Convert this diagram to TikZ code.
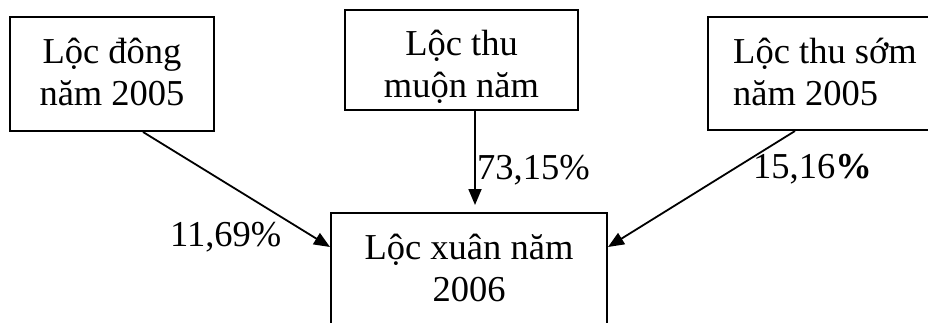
\documentclass[tikz,border=0pt]{standalone}
\usepackage{fontspec}
\setmainfont{Liberation Serif}
\usetikzlibrary{arrows.meta,calc}
\begin{document}
\begin{tikzpicture}[x=1pt,y=1pt,
  boxnode/.style={draw,line width=2pt,align=center,inner sep=0pt,
    font=\fontsize{36.5}{42}\selectfont},
  pct/.style={anchor=base west,inner sep=0pt,font=\fontsize{36.5}{42}\selectfont},
  conn/.style={line width=1.8pt,-{Triangle[length=16pt,width=13pt]}}]
\clip (0,0) rectangle (928,322);
\fill[white] (0,0) rectangle (928,322);
\node[boxnode,minimum width=204,minimum height=114,text height=64pt,text depth=2pt]
  (dong) at (112,248) {Lộc đông\\năm 2005};
\node[boxnode,minimum width=233,minimum height=100,text height=76pt,text depth=2pt]
  (muon) at (461.5,262) {Lộc thu\\muộn năm};
\node[boxnode,align=left,minimum width=234,minimum height=113,text height=65pt,text depth=2pt]
  (som) at (825,248.5) {Lộc thu sớm\\năm 2005};
\node[boxnode,minimum width=276,minimum height=130,text height=48pt,text depth=2pt]
  (xuan) at (469,44) {Lộc xuân năm\\2006};
\coordinate (a1) at ($(dong.south)+(31,0)$);
\coordinate (b1) at ($(xuan.north west)+(0,-35)$);
\coordinate (a2) at ($(muon.south)+(13.5,0)$);
\coordinate (a3) at (795,192);
\coordinate (b3) at ($(xuan.north east)+(0,-35)$);
\draw[conn] (a1) -- (b1);
\draw[conn,shorten >=7pt] (a2) -- (a2 |- xuan.north);
\draw[conn] (a3 |- som.south) -- (b3);
\node[pct] (p1) at (170,76) {11,69\%};
\node[pct] (p2) at (477,143) {73,15\%};
\node[pct] (p3) at (753,144) {15,16\textbf{\%}};
\end{tikzpicture}
\end{document}
